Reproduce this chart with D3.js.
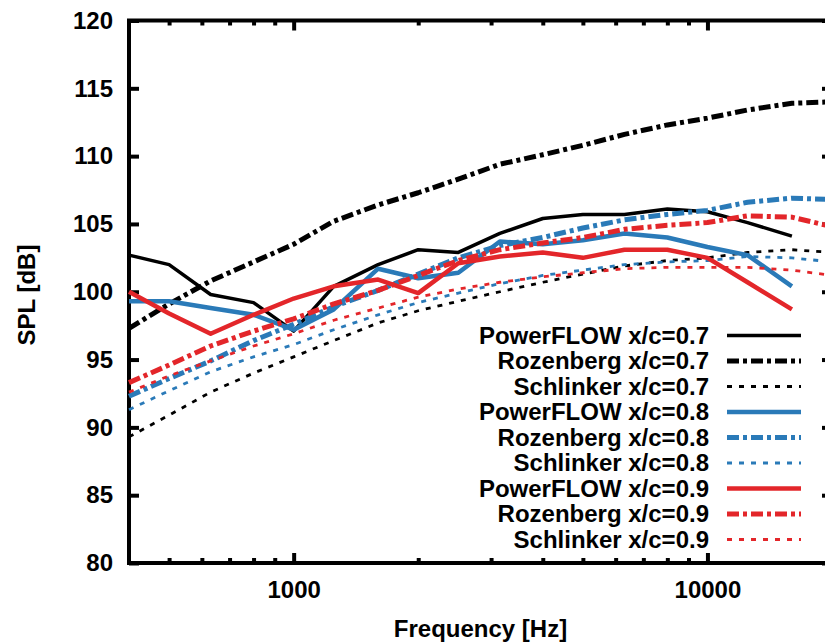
<!DOCTYPE html>
<html>
<head>
<meta charset="utf-8">
<script src="https://cdn.jsdelivr.net/npm/d3@7/dist/d3.min.js"></script>
<style>
  body { margin: 0; background: #fff; }
  text { font-family: "Liberation Sans", Arial, sans-serif; font-weight: bold; }
</style>
</head>
<body>
<div id="chart"></div>
<script>
// third-octave bands (PowerFLOW stops at 16 kHz, the models go on to 20 kHz)
const freqSim = [400, 500, 630, 800, 1000, 1250, 1600, 2000, 2500, 3150, 4000, 5000, 6300, 8000, 10000, 12500, 16000];
const freqModel = [400, 500, 630, 800, 1000, 1250, 1600, 2000, 2500, 3150, 4000, 5000, 6300, 8000, 10000, 12500, 16000, 20000];

const powerflow07 = [102.7, 102.0, 99.8, 99.2, 97.1, 100.4, 102.0, 103.1, 102.9, 104.3, 105.4, 105.7, 105.7, 106.1, 105.9, 105.1, 104.1];
const powerflow08 = [99.3, 99.3, 98.8, 98.3, 97.2, 98.7, 101.7, 101.0, 101.4, 103.7, 103.5, 103.8, 104.3, 104.0, 103.3, 102.7, 100.4];
const powerflow09 = [100.0, 98.4, 96.9, 98.3, 99.5, 100.4, 100.9, 99.9, 102.1, 102.6, 102.9, 102.5, 103.1, 103.1, 102.5, 100.7, 98.7];

const rozenberg07 = [97.3, 99.1, 100.8, 102.2, 103.5, 105.2, 106.4, 107.3, 108.3, 109.4, 110.1, 110.8, 111.6, 112.3, 112.8, 113.4, 113.9, 114.0];
const rozenberg08 = [92.3, 93.6, 94.9, 96.4, 97.6, 98.9, 100.1, 101.3, 102.5, 103.4, 104.0, 104.7, 105.3, 105.7, 106.0, 106.6, 106.9, 106.8];
const rozenberg09 = [93.3, 94.6, 96.0, 97.1, 98.0, 99.1, 100.1, 101.2, 102.3, 103.1, 103.6, 104.0, 104.6, 104.9, 105.1, 105.6, 105.5, 104.8];

const schlinker07 = [89.3, 90.9, 92.6, 94.0, 95.2, 96.4, 97.7, 98.6, 99.3, 100.0, 100.7, 101.3, 101.9, 102.3, 102.5, 102.9, 103.1, 102.9];
const schlinker08 = [91.3, 92.7, 94.1, 95.2, 96.1, 97.2, 98.3, 99.2, 99.9, 100.6, 101.2, 101.6, 102.0, 102.2, 102.3, 102.6, 102.5, 102.2];
const schlinker09 = [92.6, 93.8, 94.9, 96.0, 96.9, 97.9, 98.8, 99.6, 100.2, 100.7, 101.1, 101.4, 101.7, 101.8, 101.8, 101.8, 101.6, 101.2];

const xMajorTicks = [1000, 10000];
const xMinorTicks = [500, 600, 700, 800, 900, 2000, 3000, 4000, 5000, 6000, 7000, 8000, 9000, 20000];
const yTicks = [80, 85, 90, 95, 100, 105, 110, 115, 120];

const black = "#000000", blue = "#2a7ab8", red = "#e3262a";

const series = [
    { label: "PowerFLOW x/c=0.7", f: freqSim, v: powerflow07, color: black, width: 3.5, dash: null },
    { label: "Rozenberg x/c=0.7", f: freqModel, v: rozenberg07, color: black, width: 5, dash: "12,4,4,4" },
    { label: "Schlinker x/c=0.7", f: freqModel, v: schlinker07, color: black, width: 2.8, dash: "5,7" },
    { label: "PowerFLOW x/c=0.8", f: freqSim, v: powerflow08, color: blue, width: 4.5, dash: null },
    { label: "Rozenberg x/c=0.8", f: freqModel, v: rozenberg08, color: blue, width: 5, dash: "12,4,4,4" },
    { label: "Schlinker x/c=0.8", f: freqModel, v: schlinker08, color: blue, width: 2.8, dash: "5,7" },
    { label: "PowerFLOW x/c=0.9", f: freqSim, v: powerflow09, color: red, width: 4.5, dash: null },
    { label: "Rozenberg x/c=0.9", f: freqModel, v: rozenberg09, color: red, width: 5, dash: "12,4,4,4" },
    { label: "Schlinker x/c=0.9", f: freqModel, v: schlinker09, color: red, width: 2.8, dash: "5,7" }
];

// set the dimensions and margins of the graph
const margin = { top: 20.5, right: -7, bottom: 79, left: 129 },
    width = 825 - margin.left - margin.right,
    height = 642 - margin.top - margin.bottom;

const svg = d3.select("#chart")
    .append("svg")
    .attr("width", 825)
    .attr("height", 642)
    .append("g")
    .attr("transform", `translate(${margin.left},${margin.top})`);

const x = d3.scaleLog()
    .domain([400, 20000])
    .range([0, width]);

const y = d3.scaleLinear()
    .domain([80, 120])
    .range([height, 0]);

function styleAxis(g) {
    g.select(".domain").remove();
    g.selectAll(".tick line").attr("stroke", "#000").attr("stroke-width", 4);
    g.selectAll("text").attr("fill", "#000").style("font-size", "24px");
}

// X axes (bottom with labels, top mirrored)
svg.append("g")
    .attr("transform", `translate(0,${height})`)
    .call(d3.axisBottom(x).tickValues(xMajorTicks).tickFormat(d3.format("d")).tickSize(-10).tickPadding(18))
    .call(styleAxis);
svg.append("g")
    .attr("transform", `translate(0,${height})`)
    .call(d3.axisBottom(x).tickValues(xMinorTicks).tickFormat("").tickSize(-5))
    .call(styleAxis);
svg.append("g")
    .call(d3.axisTop(x).tickValues(xMajorTicks).tickFormat("").tickSize(-10))
    .call(styleAxis);
svg.append("g")
    .call(d3.axisTop(x).tickValues(xMinorTicks).tickFormat("").tickSize(-5))
    .call(styleAxis);

// Y axes
svg.append("g")
    .call(d3.axisLeft(y).tickValues(yTicks).tickSize(-10).tickPadding(16))
    .call(styleAxis);
svg.append("g")
    .attr("transform", `translate(${width},0)`)
    .call(d3.axisRight(y).tickValues(yTicks).tickFormat("").tickSize(-10))
    .call(styleAxis);

// frame
svg.append("rect")
    .attr("width", width)
    .attr("height", height)
    .attr("fill", "none")
    .attr("stroke", "#000")
    .attr("stroke-width", 4);

// lines
const line = d3.line()
    .x(d => x(d[0]))
    .y(d => y(d[1]));

svg.selectAll("path.series")
    .data(series)
    .join("path")
    .attr("class", "series")
    .attr("d", s => line(s.f.map((f, i) => [f, s.v[i]])))
    .attr("fill", "none")
    .attr("stroke", s => s.color)
    .attr("stroke-width", s => s.width)
    .attr("stroke-dasharray", s => s.dash)
    .attr("stroke-linejoin", "round");

// legend
const legend = svg.append("g")
    .attr("transform", `translate(${709 - margin.left},${335.5 - margin.top})`);

const rows = legend.selectAll("g")
    .data(series)
    .join("g")
    .attr("transform", (d, i) => `translate(0,${i * 25.5})`);

rows.append("text")
    .attr("text-anchor", "end")
    .attr("dy", "0.35em")
    .attr("fill", "#000")
    .style("font-size", "24px")
    .text(d => d.label);

rows.append("line")
    .attr("x1", 18)
    .attr("x2", 92)
    .attr("stroke", d => d.color)
    .attr("stroke-width", d => d.width)
    .attr("stroke-dasharray", d => d.dash);

// axis titles
svg.append("text")
    .attr("x", width / 2)
    .attr("y", 637 - margin.top)
    .attr("text-anchor", "middle")
    .style("font-size", "24px")
    .text("Frequency [Hz]");

svg.append("text")
    .attr("transform", `translate(${35 - margin.left},${295 - margin.top}) rotate(-90)`)
    .attr("text-anchor", "middle")
    .style("font-size", "24px")
    .text("SPL [dB]");
</script>
</body>
</html>
